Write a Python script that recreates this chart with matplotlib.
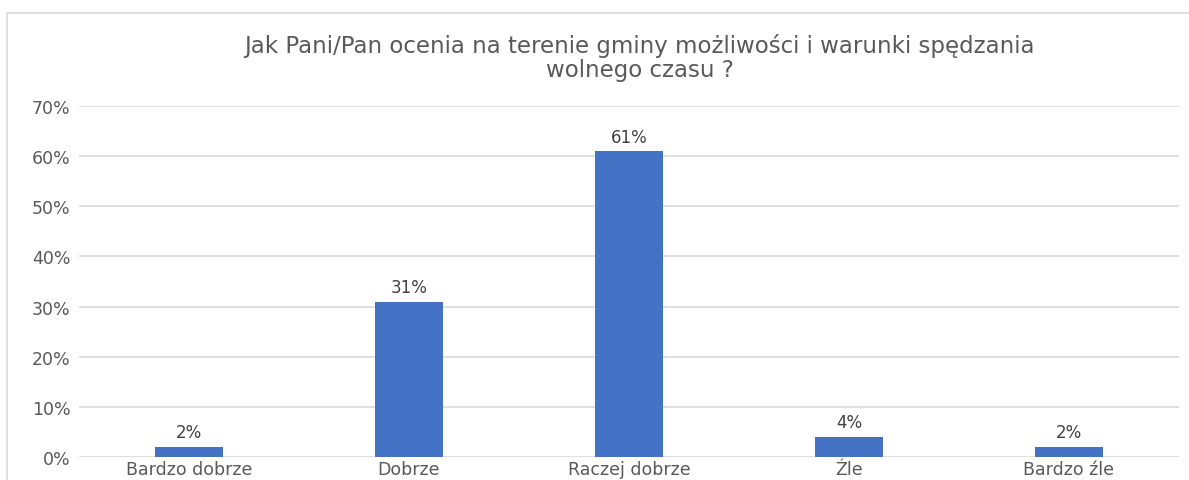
import matplotlib.pyplot as plt
from matplotlib.patches import Rectangle
from matplotlib.ticker import PercentFormatter

### Data ###
categories = ["Bardzo dobrze", "Dobrze", "Raczej dobrze", "Źle", "Bardzo źle"]
values = [0.02, 0.31, 0.61, 0.04, 0.02]
value_labels = ["2%", "31%", "61%", "4%", "2%"]

title = "Jak Pani/Pan ocenia na terenie gminy możliwości i warunki spędzania\nwolnego czasu ?"

bar_color = "#4472C4"
text_color = "#595959"
grid_color = "#D9D9D9"

plt.rcParams["font.family"] = ["DejaVu Sans"]

fig = plt.figure(figsize=(11.89, 4.81), dpi=100)
ax = fig.add_axes([0.0664, 0.0478, 0.925, 0.7297])

# light frame round the chart area, like the Excel export
fig.patches.append(Rectangle((7 / 1189, -0.05), 1.2, 1 - 14 / 481 + 0.05,
                             transform=fig.transFigure, fill=False,
                             edgecolor=grid_color, linewidth=1.2))

x = range(len(categories))
ax.bar(x, values, width=0.31, color=bar_color, zorder=3)

for i, (v, lab) in enumerate(zip(values, value_labels)):
    ax.text(i, v + 0.011, lab, ha="center", va="bottom",
            fontsize=12, color="#404040")

ax.set_xlim(-0.5, len(categories) - 0.5)
ax.set_ylim(0, 0.7)
ax.set_yticks([0, 0.1, 0.2, 0.3, 0.4, 0.5, 0.6, 0.7])
ax.yaxis.set_major_formatter(PercentFormatter(1.0, decimals=0))
ax.set_xticks(list(x))
ax.set_xticklabels(categories)

ax.grid(axis="y", color=grid_color, linewidth=1.2, zorder=0)
for s in ax.spines.values():
    s.set_visible(False)
ax.tick_params(axis="both", length=0, labelsize=12.5, colors=text_color)
ax.tick_params(axis="y", pad=6)
ax.tick_params(axis="x", pad=2.5)

fig.text(0.538, 0.93, title, ha="center", va="top", fontsize=16.5,
         color=text_color, linespacing=1.1)

fig.savefig("out.png", dpi=100)
